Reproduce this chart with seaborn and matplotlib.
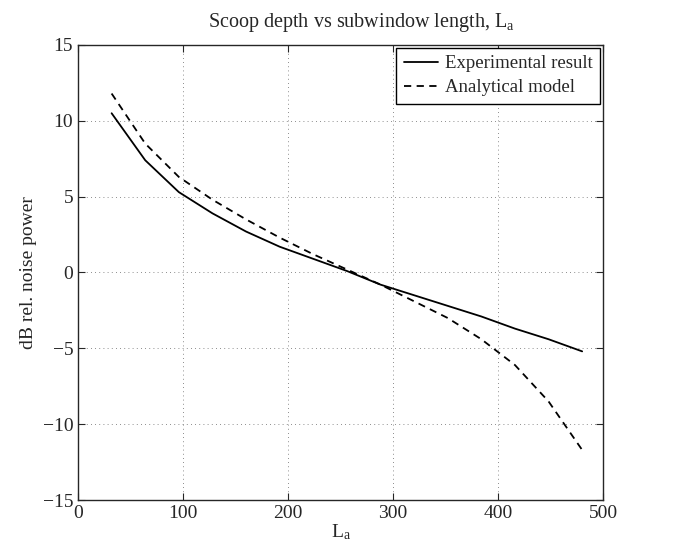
import pandas as pd
import matplotlib
matplotlib.use('Agg')
import matplotlib.pyplot as plt
import seaborn as sns

# --- data ---
window_len = [32, 64, 96, 128, 160, 192, 224, 256, 288, 320, 352, 384, 416, 448, 480]
experimental = [10.5, 7.4, 5.3, 3.9, 2.7, 1.7, 0.9, 0.1, -0.8, -1.5, -2.2, -2.9, -3.7, -4.4, -5.2]
analytical = [11.8, 8.5, 6.3, 4.8, 3.5, 2.3, 1.2, 0.2, -0.8, -1.9, -3.0, -4.4, -6.1, -8.5, -11.7]

df = pd.concat([
    pd.DataFrame({'L': window_len, 'dB': experimental, 'series': 'Experimental result'}),
    pd.DataFrame({'L': window_len, 'dB': analytical, 'series': 'Analytical model'}),
])

sns.set_style('ticks')
plt.rcParams['font.family'] = ['Liberation Serif', 'DejaVu Serif']
plt.rcParams['mathtext.fontset'] = 'custom'
plt.rcParams['mathtext.rm'] = 'Liberation Serif'
plt.rcParams['mathtext.it'] = 'Liberation Serif:italic'

fig = plt.figure(figsize=(6.99, 5.5), dpi=100)
ax = fig.add_axes([0.1116, 0.0909, 0.7513, 0.8273])

sns.lineplot(data=df, x='L', y='dB', hue='series', style='series',
             palette=['black', 'black'], dashes=[(None, None), (4, 3)],
             linewidth=1.3, ax=ax)

ax.set_xlim(0, 500)
ax.set_ylim(-15, 15)
ax.set_xticks(range(0, 501, 100))
ax.set_yticks(range(-15, 16, 5))
ax.grid(True, linestyle=(0, (1, 4)), color='black', linewidth=0.6, alpha=0.6)
ax.tick_params(direction='in', length=5, labelsize=14, top=True, right=True)
for s in ax.spines.values():
    s.set_visible(True)
    s.set_linewidth(1.0)

ax.set_title(r'Scoop depth vs subwindow length, L$_\mathrm{a}$', fontsize=14.5,
             pad=13, x=0.54)
ax.set_xlabel(r'L$_\mathrm{a}$', fontsize=14, labelpad=0)
ax.set_ylabel('dB rel. noise power', fontsize=14, labelpad=4)

leg = ax.legend(title=None, loc='upper right', fontsize=13.5, frameon=True,
                fancybox=False, edgecolor='black', handlelength=1.8,
                handletextpad=0.4, borderaxespad=0.15, borderpad=0.4,
                labelspacing=0.35)
leg.get_frame().set_linewidth(1.0)
leg.get_frame().set_alpha(1)

fig.savefig('out.png', dpi=100)
